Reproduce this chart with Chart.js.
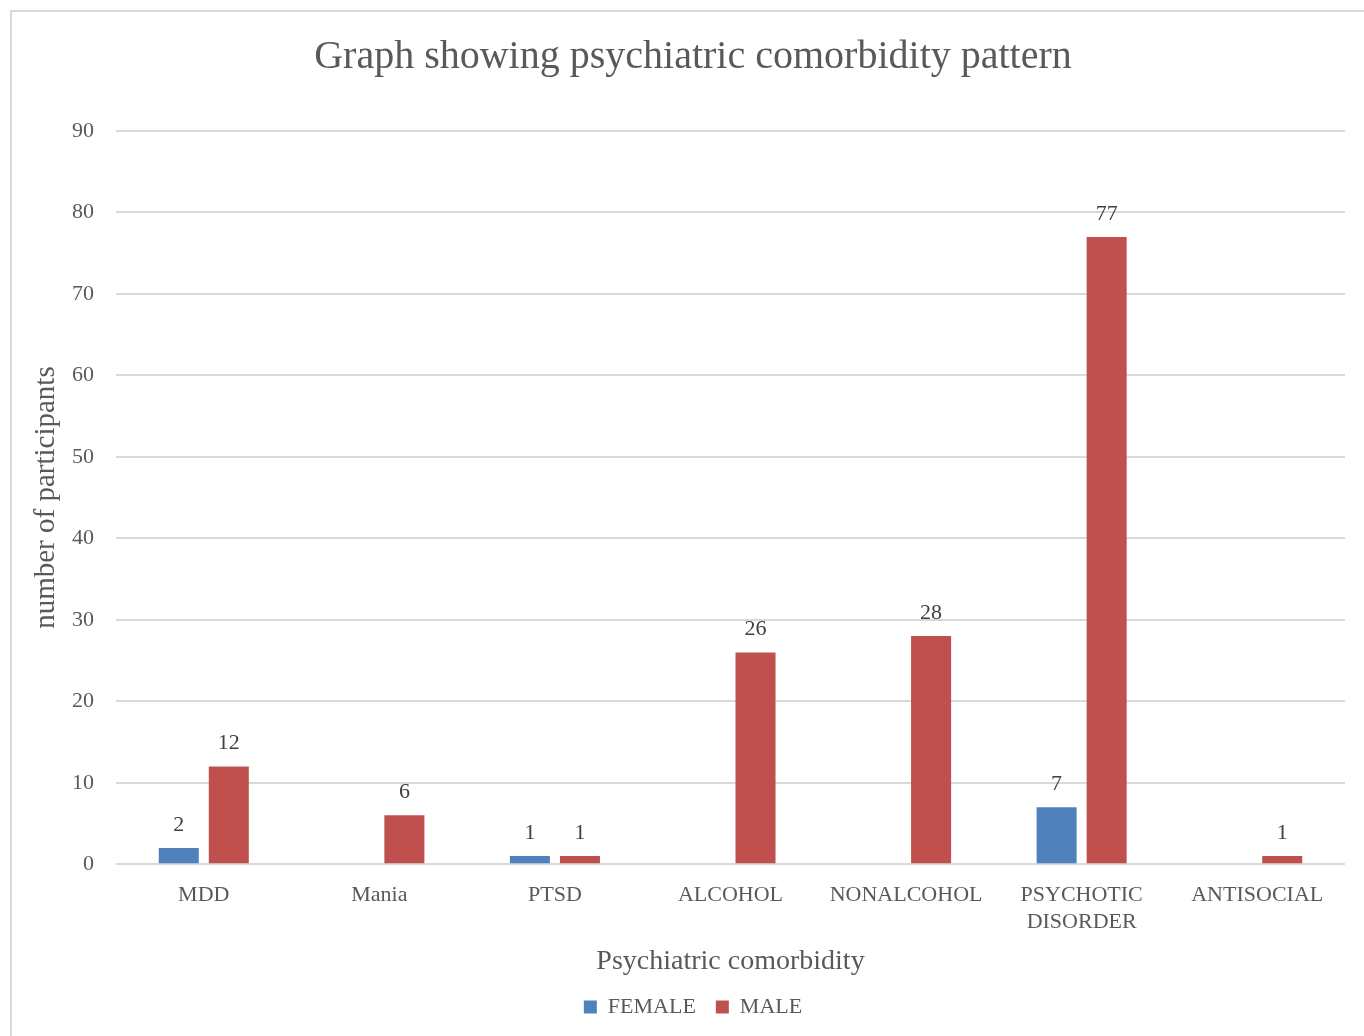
<!DOCTYPE html>
<html>
<head>
<meta charset="utf-8">
<script src="https://cdn.jsdelivr.net/npm/chart.js@4/dist/chart.umd.min.js"></script>
<style>
  html, body { margin: 0; padding: 0; background: #fff; }
  #wrap { position: relative; width: 1364px; height: 1036px; }
</style>
</head>
<body>
<div id="wrap"><canvas id="chart" width="1364" height="1036"></canvas></div>
<script>
const categories = ['MDD', 'Mania', 'PTSD', 'ALCOHOL', 'NONALCOHOL', ['PSYCHOTIC', 'DISORDER'], 'ANTISOCIAL'];
const femaleValues = [2, null, 1, null, null, 7, null];
const maleValues = [12, 6, 1, 26, 28, 77, 1];
const yTicks = { min: 0, max: 90, step: 10 };

const FONT = "'Liberation Serif', serif";
const TEXT = '#595959';

// outer chart frame (light grey, runs off the right/bottom edge)
const framePlugin = {
  id: 'frame',
  beforeDraw(chart) {
    const ctx = chart.ctx;
    ctx.save();
    ctx.strokeStyle = '#d9d9d9';
    ctx.lineWidth = 2;
    ctx.beginPath();
    ctx.moveTo(11, chart.height);
    ctx.lineTo(11, 11);
    ctx.lineTo(chart.width, 11);
    ctx.stroke();
    ctx.restore();
  }
};

// value labels above each bar
const valueLabels = {
  id: 'valueLabels',
  afterDatasetsDraw(chart) {
    const ctx = chart.ctx;
    ctx.save();
    ctx.font = '22px ' + FONT;
    ctx.fillStyle = '#404040';
    ctx.textAlign = 'center';
    ctx.textBaseline = 'bottom';
    chart.data.datasets.forEach((ds, i) => {
      chart.getDatasetMeta(i).data.forEach((bar, j) => {
        const v = ds.data[j];
        if (v === null || v === undefined) return;
        ctx.fillText(String(v), bar.x, bar.y - 12);
      });
    });
    ctx.restore();
  }
};

new Chart(document.getElementById('chart'), {
  type: 'bar',
  data: {
    labels: categories,
    datasets: [
      { label: 'FEMALE', data: femaleValues, backgroundColor: '#4f81bd', borderWidth: 0 },
      { label: 'MALE', data: maleValues, backgroundColor: '#c0504d', borderWidth: 0 }
    ]
  },
  options: {
    responsive: false,
    animation: false,
    categoryPercentage: 0.57,
    barPercentage: 0.8,
    layout: { padding: { left: 41, right: 19, top: 20, bottom: 8 } },
    plugins: {
      title: {
        display: true,
        text: 'Graph showing psychiatric comorbidity pattern',
        color: TEXT,
        font: { family: FONT, size: 40, weight: 'normal' },
        padding: { top: 13, bottom: 50 }
      },
      legend: {
        position: 'bottom',
        labels: {
          color: TEXT,
          font: { family: FONT, size: 22 },
          boxWidth: 13,
          boxHeight: 13,
          padding: 20
        }
      },
      tooltip: { enabled: false }
    },
    scales: {
      x: {
        grid: { display: false },
        border: { display: false },
        ticks: { color: TEXT, font: { family: FONT, size: 22 }, padding: 10, maxRotation: 0, autoSkip: false },
        title: {
          display: true,
          text: 'Psychiatric comorbidity',
          color: TEXT,
          font: { family: FONT, size: 28, lineHeight: 1 },
          padding: { top: 3, bottom: 0 }
        }
      },
      y: {
        min: yTicks.min,
        max: yTicks.max,
        afterFit(scale) { scale.width = 75; },
        grid: { color: '#d9d9d9', lineWidth: 2, drawTicks: false },
        border: { display: false },
        ticks: { stepSize: yTicks.step, color: TEXT, font: { family: FONT, size: 22 }, padding: 22 },
        title: {
          display: true,
          text: 'number of participants',
          color: TEXT,
          font: { family: FONT, size: 29 },
          padding: { top: -12, bottom: 0 }
        }
      }
    }
  },
  plugins: [framePlugin, valueLabels]
});
</script>
</body>
</html>
